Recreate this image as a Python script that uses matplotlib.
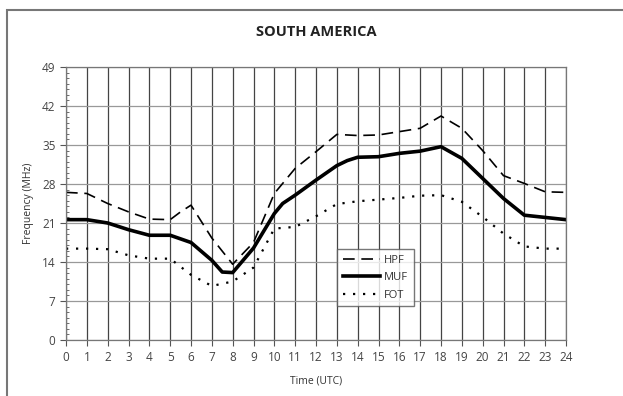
import matplotlib.pyplot as plt
from matplotlib.patches import Rectangle

# Values (hour UTC -> MHz)
hpf_hours = [0, 1, 2, 3, 4, 5, 5.5, 6, 7, 8, 9, 10, 11, 12, 13, 14, 15, 16, 17, 18, 19, 20, 21, 22, 23, 24]
hpf_vals = [26.5, 26.3, 24.5, 23.0, 21.7, 21.6, 23.0, 24.2, 18.3, 13.6, 17.5, 26.3, 30.8, 33.8, 36.9, 36.7, 36.8, 37.4, 38.0, 40.2, 38.0, 34.0, 29.5, 28.1, 26.6, 26.5]

muf_hours = [0, 1, 2, 3, 4, 5, 6, 7, 7.5, 8, 9, 10, 10.4, 11, 12, 13, 13.5, 14, 15, 16, 17, 18, 19, 20, 21, 22, 23, 24]
muf_vals = [21.6, 21.6, 21.0, 19.8, 18.8, 18.8, 17.5, 14.3, 12.2, 12.1, 16.5, 22.7, 24.5, 26.0, 28.7, 31.3, 32.2, 32.8, 32.9, 33.5, 33.9, 34.7, 32.6, 29.0, 25.4, 22.4, 22.0, 21.6]

fot_hours = [0, 1, 2, 3, 4, 5, 6, 7, 8, 9, 10, 11, 12, 13, 14, 15, 16, 17, 18, 19, 20, 21, 22, 23, 24]
fot_vals = [16.4, 16.4, 16.3, 15.2, 14.6, 14.6, 11.7, 9.7, 10.5, 13.0, 20.0, 20.3, 22.2, 24.4, 24.9, 25.2, 25.5, 25.9, 26.0, 24.8, 22.1, 19.1, 16.8, 16.4, 16.4]

x_ticks = list(range(0, 25))
y_ticks = [0, 7, 14, 21, 28, 35, 42, 49]

plt.rcParams['font.family'] = ['Open Sans', 'DejaVu Sans']

fig = plt.figure(figsize=(6.23, 3.96), dpi=100)
ax = fig.add_axes([66 / 623, 1 - 340 / 396, 500 / 623, 273 / 396])

# outer frame like the scanned page
fig.patches.append(Rectangle((7 / 623, -0.1), 1.2, (396 - 10) / 396 + 0.1,
                             transform=fig.transFigure, fill=False,
                             edgecolor='#777777', linewidth=1.5))

ax.plot(hpf_hours, hpf_vals, color='black', linewidth=1.2, linestyle=(0, (7, 4)), label='HPF')
ax.plot(muf_hours, muf_vals, color='black', linewidth=2.6, linestyle='-', label='MUF')
ax.plot(fot_hours, fot_vals, color='black', linewidth=1.6, linestyle=(0, (1, 3.5)), label='FOT')

ax.set_xlim(0, 24)
ax.set_ylim(0, 49)
ax.set_xticks(x_ticks)
ax.set_yticks(y_ticks)
ax.set_yticks(range(0, 50), minor=True)
ax.tick_params(axis='both', which='major', direction='out', length=4, width=0.8,
               color='#555555', labelsize=8.5, labelcolor='#444444')
ax.tick_params(axis='y', which='minor', direction='in', length=2.5, width=0.6, color='#555555')
ax.tick_params(axis='x', which='major', pad=4)

ax.xaxis.grid(True, color='#444444', linewidth=0.9)
ax.yaxis.grid(True, color='#999999', linewidth=0.9)
ax.set_axisbelow(True)
for s in ax.spines.values():
    s.set_color('#777777')
    s.set_linewidth(0.9)

ax.set_xlabel('Time (UTC)', fontsize=7.5, color='#333333', labelpad=8)
ax.set_ylabel('Frequency (MHz)', fontsize=7.5, color='#333333', labelpad=6)
fig.text(316 / 623, 1 - 32 / 396, 'SOUTH AMERICA', ha='center', va='center',
         fontsize=10.5, fontweight='bold', color='#222222')

leg = ax.legend(loc='upper left', bbox_to_anchor=((337 - 66) / 500, (340 - 249) / 273),
                frameon=True, fancybox=False, fontsize=8, handlelength=3.4,
                handletextpad=0.35, borderpad=0.5, labelspacing=0.6, borderaxespad=0)
leg.get_frame().set_edgecolor('#555555')
leg.get_frame().set_linewidth(1.0)
for t in leg.get_texts():
    t.set_color('#333333')

fig.savefig('out.png', dpi=100)
